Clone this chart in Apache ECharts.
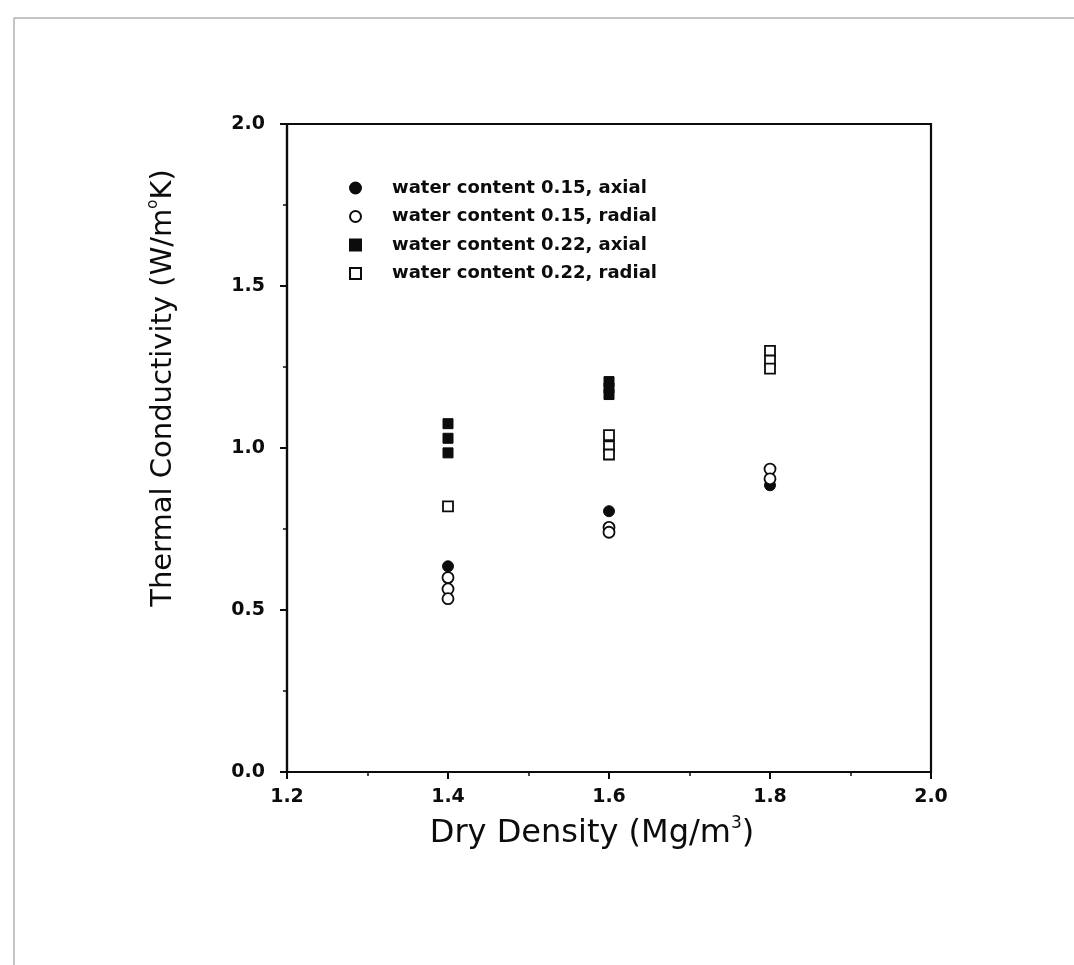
<!DOCTYPE html>
<html>
<head>
<meta charset="utf-8">
<title>Thermal Conductivity vs Dry Density</title>
<script src="https://cdn.jsdelivr.net/npm/echarts@6/dist/echarts.min.js"></script>
<style>
  html, body { margin: 0; padding: 0; background: #fff; }
  #chart { width: 1074px; height: 965px; }
</style>
</head>
<body>
<div id="chart"></div>
<script>
// Measured thermal conductivity (W/m°K) against dry density (Mg/m³)
const seriesNames = [
  'water content 0.15, axial',
  'water content 0.15, radial',
  'water content 0.22, axial',
  'water content 0.22, radial'
];

const wc015Axial = [[1.4, 0.635], [1.6, 0.805], [1.8, 0.885]];
const wc015Radial = [[1.4, 0.600], [1.4, 0.565], [1.4, 0.535],
                     [1.6, 0.755], [1.6, 0.740],
                     [1.8, 0.935], [1.8, 0.905]];
const wc022Axial = [[1.4, 1.075], [1.4, 1.030], [1.4, 0.985],
                    [1.6, 1.205], [1.6, 1.185], [1.6, 1.165]];
const wc022Radial = [[1.4, 0.820],
                     [1.6, 1.040], [1.6, 1.005], [1.6, 0.980],
                     [1.8, 1.300], [1.8, 1.270], [1.8, 1.245]];

const xTicks = { min: 1.2, max: 2.0, step: 0.2 };
const yTicks = { min: 0.0, max: 2.0, step: 0.5 };

const FONT = 'DejaVu Sans';
const INK = '#0c0c0c';

const filled = { color: INK, borderColor: INK, borderWidth: 1, opacity: 1 };
const hollow = { color: '#fff', borderColor: INK, borderWidth: 1.8, opacity: 1 };

function scatter(name, data, symbol, size, style) {
  return {
    name: name,
    type: 'scatter',
    data: data,
    symbol: symbol,
    symbolSize: size,
    itemStyle: style,
    emphasis: { disabled: true }
  };
}

const axisCommon = {
  axisLine: { show: true, onZero: false, lineStyle: { color: INK, width: 2.2 } },
  axisTick: { show: true, inside: false, length: 7, lineStyle: { color: INK, width: 2 } },
  minorTick: { show: true, splitNumber: 2, length: 4, lineStyle: { color: INK, width: 1.5 } },
  splitLine: { show: false },
  minorSplitLine: { show: false }
};

const chart = echarts.init(document.getElementById('chart'), null, { renderer: 'canvas' });

chart.setOption({
  animation: false,
  backgroundColor: '#fff',
  graphic: [
    // scanned page frame
    { type: 'line', shape: { x1: 14, y1: 18, x2: 1074, y2: 18 }, style: { stroke: '#8a8a8a', lineWidth: 1 } },
    { type: 'line', shape: { x1: 14, y1: 18, x2: 14, y2: 965 }, style: { stroke: '#8a8a8a', lineWidth: 1 } }
  ],
  grid: {
    left: 287, top: 124, width: 644, height: 648,
    show: true, borderColor: INK, borderWidth: 2.2, backgroundColor: 'transparent'
  },
  legend: {
    orient: 'vertical',
    left: 344, top: 174,
    itemWidth: 11, itemHeight: 11, itemGap: 10.5,
    selectedMode: false,
    data: seriesNames,
    textStyle: {
      fontFamily: FONT, fontWeight: 'bold', fontSize: 18, color: INK,
      padding: [0, 0, 0, 26]
    }
  },
  xAxis: Object.assign({}, axisCommon, {
    type: 'value',
    min: xTicks.min, max: xTicks.max, interval: xTicks.step,
    name: 'Dry Density (Mg/m{sup|3})',
    nameLocation: 'middle', nameGap: 43,
    nameTextStyle: {
      fontFamily: FONT, fontSize: 32, color: INK, lineHeight: 38,
      padding: [0, 34, 0, 0],
      rich: { sup: { fontFamily: FONT, fontSize: 17, color: INK, verticalAlign: 'top', lineHeight: 38 } }
    },
    axisLabel: {
      margin: 16, fontFamily: FONT, fontWeight: 'bold', fontSize: 19, color: INK,
      formatter: v => v.toFixed(1)
    }
  }),
  yAxis: Object.assign({}, axisCommon, {
    type: 'value',
    min: yTicks.min, max: yTicks.max, interval: yTicks.step,
    name: 'Thermal Conductivity (W/m{sup|o}K)',
    nameLocation: 'middle', nameGap: 107,
    nameTextStyle: {
      fontFamily: FONT, fontSize: 29, color: INK, lineHeight: 34,
      padding: [0, 0, 0, 120],
      rich: { sup: { fontFamily: FONT, fontSize: 15, color: INK, verticalAlign: 'top', lineHeight: 34 } }
    },
    axisLabel: {
      margin: 22, fontFamily: FONT, fontWeight: 'bold', fontSize: 19, color: INK,
      formatter: v => v.toFixed(1)
    }
  }),
  series: [
    scatter(seriesNames[0], wc015Axial, 'circle', 11, filled),
    scatter(seriesNames[1], wc015Radial, 'circle', 11, hollow),
    scatter(seriesNames[2], wc022Axial, 'rect', 10, filled),
    scatter(seriesNames[3], wc022Radial, 'rect', 10, hollow)
  ]
});
</script>
</body>
</html>
